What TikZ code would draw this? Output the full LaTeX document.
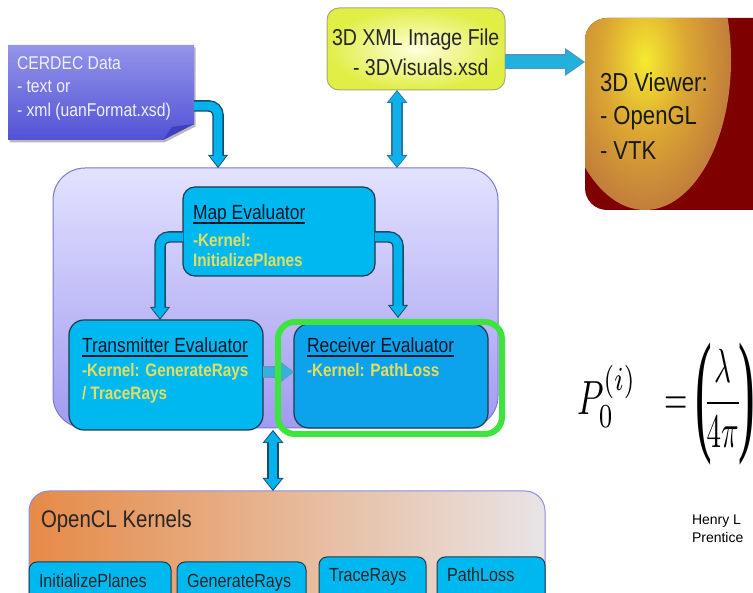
\documentclass[tikz,border=0pt]{standalone}
\usepackage{fontspec}
\usepackage{graphicx}
\usetikzlibrary{arrows.meta,calc}
\newfontfamily\nar[FakeStretch=0.85]{Liberation Sans}
\newfontfamily\arialf{Liberation Sans}
\newfontfamily\serf{Liberation Serif}
\definecolor{cyanbox}{HTML}{00B8F0}
\definecolor{cyanrx}{HTML}{0CA2EC}
\definecolor{boxedge}{HTML}{1E3A4C}
\definecolor{ktxt}{HTML}{E4DE5E}
\definecolor{hdr}{HTML}{0A1628}
\definecolor{arrcyan}{HTML}{00B2EE}
\definecolor{arredge}{HTML}{1C4A62}
\definecolor{lavtop}{HTML}{E2E2FF}
\definecolor{lavbot}{HTML}{A29AF0}
\definecolor{lavedge}{HTML}{7A78D8}
\definecolor{hlgreen}{HTML}{3EE43E}
\definecolor{cerTop}{HTML}{9494EA}
\definecolor{cerBot}{HTML}{5252D6}
\definecolor{cerFlap}{HTML}{3E3EC0}
\definecolor{cerText}{HTML}{F0F0FF}
\definecolor{xmlin}{HTML}{FFFFDC}
\definecolor{xmlout}{HTML}{E0EE46}
\definecolor{xmledge}{HTML}{A8AA7A}
\definecolor{vdark}{HTML}{7E0000}
\definecolor{vyel}{HTML}{F6EA30}
\definecolor{vorg}{HTML}{DCA832}
\definecolor{vbrn}{HTML}{B46640}
\definecolor{vrose}{HTML}{A04A4A}
\definecolor{oclL}{HTML}{E68A46}
\definecolor{oclR}{HTML}{E8E4E6}
\definecolor{ocledge}{HTML}{8C8CE4}
\definecolor{xarr}{HTML}{22B0DC}
\definecolor{xarredge}{HTML}{4A98C4}
\definecolor{darr}{HTML}{10B0EA}
\definecolor{darredge}{HTML}{2A78A8}
\definecolor{sarr}{HTML}{38B0DC}
\definecolor{sarredge}{HTML}{5A9CC8}
\pgfdeclareradialshading{viewshade}{\pgfpoint{0bp}{0bp}}{color(0bp)=(vyel); color(12bp)=(vorg); color(32bp)=(vbrn); color(49.5bp)=(vrose); color(50bp)=(vrose)}
\begin{document}
\begin{tikzpicture}[x=1pt,y=-1pt,
  every node/.style={inner sep=0pt, outer sep=0pt},
  box/.style={anchor=north west, draw=boxedge, line width=1.2pt, rounded corners=12pt},
  kbox/.style={anchor=north west, draw=boxedge, line width=1pt, fill=cyanbox, rounded corners=8pt},
  outS/.style={line width=11.5pt, draw=#1, rounded corners=9pt, -{Triangle[width=20pt,length=13pt,line width=0pt]}},
  outS/.default=arredge,
  inS/.style={line width=8.8pt, draw=#1, rounded corners=9pt, shorten >=1.6pt, -{Triangle[width=16.5pt,length=10.6pt,line width=0pt]}},
  inS/.default=arrcyan,
  outD/.style={line width=11.5pt, draw=#1, {Triangle[width=21pt,length=13pt,line width=0pt]}-{Triangle[width=21pt,length=13pt,line width=0pt]}},
  outD/.default=arredge,
  inD/.style={line width=8.8pt, draw=#1, shorten >=1.6pt, shorten <=1.6pt, {Triangle[width=17.5pt,length=10.6pt,line width=0pt]}-{Triangle[width=17.5pt,length=10.6pt,line width=0pt]}},
  inD/.default=arrcyan,
  uline/.style={draw=hdr, line width=1.2pt},
  cert/.style={anchor=base west, text=cerText, font=\nar\fontsize{18.5}{20}\selectfont},
  hdrt/.style={anchor=base west, text=hdr, font=\nar\fontsize{20.5}{24}\selectfont},
  kert/.style={anchor=base west, text=ktxt, font=\nar\bfseries\fontsize{18}{20}\selectfont},
  xmlt/.style={anchor=base west, text=black!85, font=\nar\fontsize{23}{26}\selectfont},
  viewt/.style={anchor=base west, text=black!90, font=\nar\fontsize{26}{30}\selectfont},
  oclt/.style={anchor=base west, text=black!85, font=\nar\fontsize{24}{28}\selectfont},
  kt/.style={anchor=base west, text=black!85, font=\nar\fontsize{19}{22}\selectfont},
  notet/.style={anchor=base west, text=black, font=\arialf\fontsize{14}{16}\selectfont}]
\path[use as bounding box] (0,0) rectangle (753,593);
\clip (0,0) rectangle (753,593);

% CERDEC note
\node[anchor=north west, minimum width=186pt, minimum height=95pt] (cer) at (8,45) {};
\fill[black!28] ([xshift=1.5pt,yshift=-2.5pt]cer.north west) -- ([xshift=1.5pt,yshift=-2.5pt]cer.north east) -- ([xshift=1.5pt,yshift=13.5pt]cer.south east) -- ([xshift=-29.5pt,yshift=-2.5pt]cer.south east) -- ([xshift=1.5pt,yshift=-2.5pt]cer.south west) -- cycle;
\shade[top color=cerTop, bottom color=cerBot] (cer.north west) -- (cer.north east) -- ([yshift=16pt]cer.south east) -- ([xshift=-31pt]cer.south east) -- (cer.south west) -- cycle;
\fill[cerFlap] ([yshift=16pt]cer.south east) -- ([xshift=-22pt,yshift=13pt]cer.south east) -- ([xshift=-31pt]cer.south east) -- cycle;
\node[cert] (c1) at (17,70) {CERDEC Data};
\node[cert] (c2) at (17,93) {- text or};
\node[cert] (c3) at (17,117) {- xml (uanFormat.xsd)};

% XML file
\node[anchor=north west, minimum width=178pt, minimum height=82pt, draw=xmledge, line width=1pt, rounded corners=12pt, inner color=xmlin, outer color=xmlout] (xml) at (327,8) {};
\node[xmlt] (x1) at (332,46) {3D XML Image File};
\node[xmlt] (x2) at (353,76) {- 3DVisuals.xsd};

% 3D viewer
\node[anchor=north west, minimum width=200pt, minimum height=192pt, fill=vdark, rounded corners=22pt] (viewer) at (585,18) {};
\begin{scope}
\clip[rounded corners=22pt] (viewer.north west) rectangle (viewer.south east);
\shade[shading=viewshade] (645,60) ellipse [x radius=86pt, y radius=150pt];
\end{scope}
\node[viewt] (v1) at (600,92) {3D Viewer:};
\node[viewt] (v2) at (600,125) {- OpenGL};
\node[viewt] (v3) at (600,160) {- VTK};

% processing container
\node[anchor=north west, minimum width=445pt, minimum height=260pt, draw=lavedge, line width=1pt, top color=lavtop, bottom color=lavbot, rounded corners=32pt] (proc) at (53,168) {};

\node[box, fill=cyanbox, minimum width=192pt, minimum height=89pt] (map) at (183,187) {};
\node[box, fill=cyanbox, minimum width=194pt, minimum height=110pt, rounded corners=15pt] (tx) at (69,320) {};
\node[box, fill=cyanrx, minimum width=194pt, minimum height=104pt, rounded corners=15pt] (rx) at (294,324) {};

\node[hdrt] (m1) at (193,220) {Map Evaluator};
\draw[uline] ([yshift=-3pt]m1.base west) -- ([yshift=-3pt]m1.base east);
\node[kert] (m2) at (193,247) {-Kernel:};
\node[kert] (m3) at (193,267) {InitializePlanes};
\node[hdrt] (t1) at (82,353) {Transmitter Evaluator};
\draw[uline] ([yshift=-3pt]t1.base west) -- ([yshift=-3pt]t1.base east);
\node[kert] (t2) at (82,377) {-Kernel: GenerateRays};
\node[kert] (t3) at (82,400) {/ TraceRays};
\node[hdrt] (r1) at (307,353) {Receiver Evaluator};
\draw[uline] ([yshift=-3pt]r1.base west) -- ([yshift=-3pt]r1.base east);
\node[kert] (r2) at (307,377) {-Kernel: PathLoss};

% arrows
\draw[outS] ([yshift=34pt]cer.south east) -| ([xshift=165pt]proc.north west);
\draw[inS] ([yshift=34pt]cer.south east) -| ([xshift=165pt]proc.north west);
\draw[outS] ([yshift=-5.5pt]map.west) -| ([xshift=91pt]tx.north west);
\draw[inS] ([yshift=-5.5pt]map.west) -| ([xshift=91pt]tx.north west);
\draw[outS] ([yshift=-5.5pt]map.east) -| ([xshift=104pt,yshift=6pt]rx.north west);
\draw[inS] ([yshift=-5.5pt]map.east) -| ([xshift=104pt,yshift=6pt]rx.north west);
\draw[outS=sarredge] ([yshift=3pt]tx.east) -- ([yshift=3pt]tx.east -| rx.west);
\draw[inS=sarr] ([yshift=3pt]tx.east) -- ([yshift=3pt]tx.east -| rx.west);
\draw[outD=darredge] ([xshift=-19pt]xml.south) -- ([xshift=-19pt]xml.south |- proc.north);
\draw[inD=darr] ([xshift=-19pt]xml.south) -- ([xshift=-19pt]xml.south |- proc.north);
\draw[line width=15pt, draw=xarredge, -{Triangle[width=28pt,length=20pt,line width=0pt]}] ([yshift=-13pt]xml.east) -- ([yshift=-13pt]xml.east -| viewer.west);
\draw[line width=12pt, draw=xarr, shorten >=2pt, -{Triangle[width=23pt,length=16.5pt,line width=0pt]}] ([yshift=-13pt]xml.east) -- ([yshift=-13pt]xml.east -| viewer.west);

% highlight
\node[anchor=north west, draw=hlgreen, line width=6pt, rounded corners=17pt, minimum width=224pt, minimum height=112pt] (hl) at (278,322) {};

% OpenCL kernels
\node[anchor=north west, minimum width=516pt, minimum height=130pt, draw=ocledge, line width=1pt, left color=oclL, right color=oclR, rounded corners=20pt] (ocl) at (29,491) {};
\node[oclt] (o1) at (41,528) {OpenCL Kernels};
\node[kbox, minimum width=142pt, minimum height=50pt] (k1) at (29,562) {};
\node[kbox, minimum width=129pt, minimum height=50pt] (k2) at (177,562) {};
\node[kbox, minimum width=107pt, minimum height=50pt] (k3) at (319,557) {};
\node[kbox, minimum width=108pt, minimum height=50pt] (k4) at (437,557) {};
\node[kt] (k1t) at (39,587) {InitializePlanes};
\node[kt] (k2t) at (187,587) {GenerateRays};
\node[kt] (k3t) at (329,582) {TraceRays};
\node[kt] (k4t) at (447,582) {PathLoss};

\draw[outD] ([xshift=10pt]tx.south east) -- ([xshift=10pt]tx.south east |- ocl.north);
\draw[inD] ([xshift=10pt]tx.south east) -- ([xshift=10pt]tx.south east |- ocl.north);

% formula and note
\node[anchor=base west] (eq) at (577,415) {\scalebox{3.4}[4.8]{$P_0^{(i)}$}\hspace{28pt}\scalebox{3}[4.8]{$=$}\hspace{8pt}\raisebox{-21.7pt}{\scalebox{5}[13.5]{\serf(}}\hspace{-9pt}\scalebox{2.9}[4.8]{$\displaystyle\frac{\lambda}{4\pi}$}\hspace{-4pt}\raisebox{-21.7pt}{\scalebox{5}[13.5]{\serf)}}\raisebox{22pt}{\scalebox{3}[4.8]{$^{2}$}}};
\node[notet] (n1) at (692,525) {Henry L};
\node[notet] (n2) at (692,543) {Prentice};
\end{tikzpicture}
\end{document}
